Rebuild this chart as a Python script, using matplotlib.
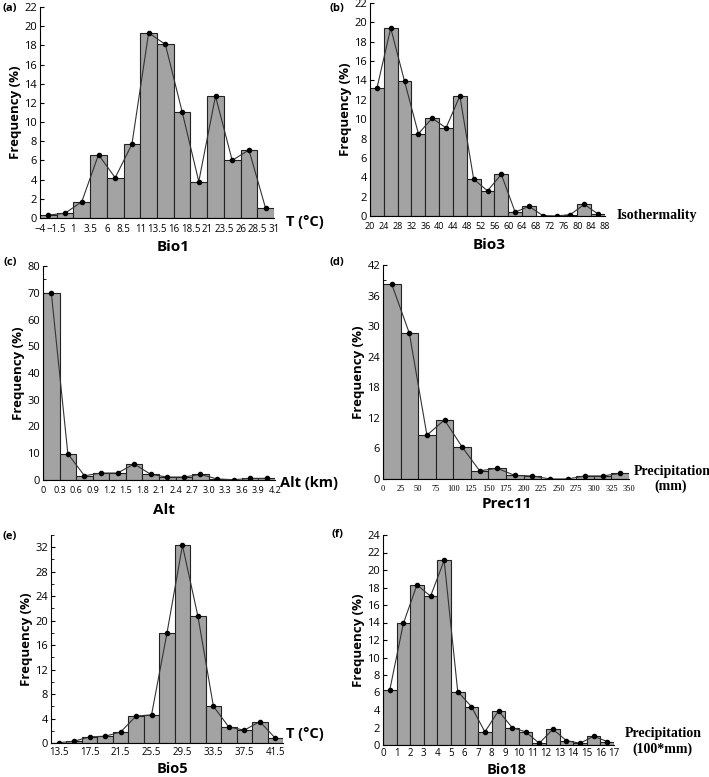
import numpy as np
import matplotlib
matplotlib.use("Agg")
import matplotlib.pyplot as plt
from matplotlib.ticker import MultipleLocator

plt.rcParams['font.family'] = ['Open Sans', 'DejaVu Sans']

# --- data (frequency %, one value per bin) ---
bio1_edges = [-4, -1.5, 1, 3.5, 6, 8.5, 11, 13.5, 16, 18.5, 21, 23.5, 26, 28.5, 31]
bio1_freq = [0.3, 0.5, 1.7, 6.6, 4.2, 7.7, 19.3, 18.1, 11.1, 3.8, 12.7, 6.0, 7.1, 1.0]
bio1_ticks = ["\u22124", "\u22121.5", "1", "3.5", "6", "8.5", "11", "13.5", "16",
              "18.5", "21", "23.5", "26", "28.5", "31"]

bio3_edges = [20, 24, 28, 32, 36, 40, 44, 48, 52, 56, 60, 64, 68, 72, 76, 80, 84, 88]
bio3_freq = [13.2, 19.4, 13.9, 8.5, 10.1, 9.1, 12.4, 3.8, 2.6, 4.3, 0.4, 1.0,
             0.05, 0.0, 0.15, 1.2, 0.2]

alt_edges = [0, 0.3, 0.6, 0.9, 1.2, 1.5, 1.8, 2.1, 2.4, 2.7, 3.0, 3.3, 3.6, 3.9, 4.2]
alt_freq = [70.0, 9.8, 1.6, 2.6, 2.6, 6.0, 2.1, 1.1, 1.1, 2.1, 0.4, 0.1, 0.6, 0.6]
alt_ticks = ["0", "0.3", "0.6", "0.9", "1.2", "1.5", "1.8", "2.1", "2.4", "2.7",
             "3.0", "3.3", "3.6", "3.9", "4.2"]

prec11_edges = [0, 25, 50, 75, 100, 125, 150, 175, 200, 225, 250, 275, 300, 325, 350]
prec11_freq = [38.2, 28.6, 8.6, 11.6, 6.3, 1.6, 2.1, 0.7, 0.6, 0.0, 0.0, 0.6, 0.6, 1.1]

bio5_centers = [13.5, 15.5, 17.5, 19.5, 21.5, 23.5, 25.5, 27.5, 29.5, 31.5,
                33.5, 35.5, 37.5, 39.5, 41.5]
bio5_freq = [0.05, 0.3, 1.0, 1.1, 1.8, 4.4, 4.6, 18.0, 32.3, 20.7, 6.0, 2.6, 2.1, 3.5, 0.8]
bio5_ticks = [13.5, 17.5, 21.5, 25.5, 29.5, 33.5, 37.5, 41.5]

bio18_edges = list(range(0, 18))
bio18_freq = [6.3, 13.9, 18.3, 17.0, 21.1, 6.1, 4.4, 1.5, 3.9, 2.0, 1.5, 0.2,
              1.8, 0.5, 0.2, 1.0, 0.4]

BAR = "#a3a3a3"
SERIF = "Liberation Serif"

fig = plt.figure(figsize=(7.09, 7.77), dpi=100)
W, H = 709, 777


def make_ax(left, right, top, bottom):
    return fig.add_axes([left / W, 1 - bottom / H, (right - left) / W, (bottom - top) / H])


def hist_panel(ax, edges, freq, ymax, ystep, yminor=None):
    edges = np.asarray(edges, dtype=float)
    widths = np.diff(edges)
    centers = edges[:-1] + widths / 2
    ax.bar(edges[:-1], freq, width=widths, align="edge", color=BAR,
           edgecolor="#222222", linewidth=0.8, zorder=2)
    ax.plot(centers, freq, color="#333333", linewidth=0.8, marker="o",
            markersize=3, markerfacecolor="black", markeredgecolor="black", zorder=3)
    ax.set_xlim(edges[0], edges[-1])
    ax.set_ylim(0, ymax)
    ax.yaxis.set_major_locator(MultipleLocator(ystep))
    if yminor:
        ax.yaxis.set_minor_locator(MultipleLocator(yminor))
    for s in ("top", "right"):
        ax.spines[s].set_visible(False)
    ax.spines["left"].set_linewidth(0.8)
    ax.spines["bottom"].set_linewidth(0.8)
    ax.tick_params(axis="y", direction="in", length=3, width=0.8, labelsize=8, pad=2)
    ax.tick_params(axis="y", which="minor", direction="in", length=2, width=0.6)
    ax.tick_params(axis="x", length=0, pad=4)
    ax.set_ylabel("Frequency (%)", fontsize=9.5, fontweight="bold", labelpad=2)
    return centers


def fig_text(x, y, s, **kw):
    fig.text(x / W, 1 - y / H, s, ha="center", va="center", **kw)


# (a) Bio1
ax = make_ax(40, 274, 7, 218)
hist_panel(ax, bio1_edges, bio1_freq, 22, 2)
ax.set_xticks(bio1_edges)
ax.set_xticklabels(bio1_ticks, fontsize=7)
fig_text(10, 8, "(a)", fontsize=8, fontweight="bold")
fig_text(305, 222, "T (\u00b0C)", fontsize=10.5, fontweight="bold")
fig_text(173, 247, "Bio1", fontsize=11, fontweight="bold")

# (b) Bio3
ax = make_ax(370, 605, 3, 216)
hist_panel(ax, bio3_edges, bio3_freq, 22, 2)
ax.set_xticks(bio3_edges)
ax.set_xticklabels([str(v) for v in bio3_edges], fontsize=6.5)
fig_text(337, 8, "(b)", fontsize=8, fontweight="bold")
fig_text(657, 216, "Isothermality", fontsize=10, fontweight="bold", family=SERIF)
fig_text(489, 245, "Bio3", fontsize=11, fontweight="bold")

# (c) Alt
ax = make_ax(43, 275, 266, 480)
hist_panel(ax, alt_edges, alt_freq, 80, 10, 5)
ax.set_xticks(alt_edges)
ax.set_xticklabels(alt_ticks, fontsize=6.5)
fig_text(10, 263, "(c)", fontsize=8, fontweight="bold")
fig_text(309, 483, "Alt (km)", fontsize=10.5, fontweight="bold")
fig_text(164, 510, "Alt", fontsize=11, fontweight="bold")

# (d) Prec11
ax = make_ax(383, 629, 265, 479)
hist_panel(ax, prec11_edges, prec11_freq, 42, 6, 3)
ax.set_xticks(prec11_edges)
ax.set_xticklabels([str(v) for v in prec11_edges], fontsize=6, family=SERIF)
fig_text(337, 263, "(d)", fontsize=8, fontweight="bold")
fig_text(672, 471, "Precipitation", fontsize=10, fontweight="bold", family=SERIF)
fig_text(671, 486, "(mm)", fontsize=10, fontweight="bold", family=SERIF)
fig_text(507, 504, "Prec11", fontsize=11, fontweight="bold")

# (e) Bio5
ax = make_ax(51, 283, 535, 743)
c5 = np.asarray(bio5_centers)
e5 = np.append(c5 - 1, c5[-1] + 1)
hist_panel(ax, e5, bio5_freq, 34, 4, 2)
ax.set_xticks(bio5_ticks)
ax.set_xticklabels([str(v) for v in bio5_ticks], fontsize=7)
ax.tick_params(axis="x", pad=3)
fig_text(10, 536, "(e)", fontsize=8, fontweight="bold")
fig_text(305, 734, "T (\u00b0C)", fontsize=10.5, fontweight="bold")
fig_text(172, 769, "Bio5", fontsize=10.5, fontweight="bold")

# (f) Bio18
ax = make_ax(383, 614, 535, 745)
hist_panel(ax, bio18_edges, bio18_freq, 24, 2)
ax.set_xticks(bio18_edges)
ax.set_xticklabels([str(v) for v in bio18_edges], fontsize=7)
ax.tick_params(axis="x", pad=2)
fig_text(337, 535, "(f)", fontsize=8, fontweight="bold")
fig_text(663, 734, "Precipitation", fontsize=10, fontweight="bold", family=SERIF)
fig_text(662, 749, "(100*mm)", fontsize=10, fontweight="bold", family=SERIF)
fig_text(507, 770, "Bio18", fontsize=10.5, fontweight="bold")

fig.savefig("out.png", dpi=100)
